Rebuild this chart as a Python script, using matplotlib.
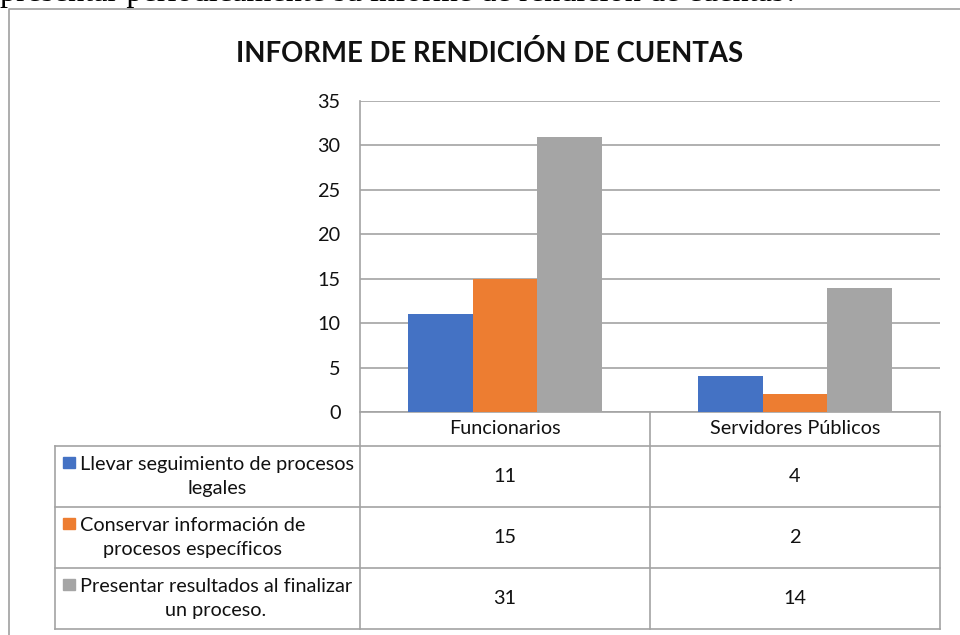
import matplotlib
matplotlib.use("Agg")
import matplotlib.pyplot as plt
from matplotlib.patches import Rectangle

# data
categories = ['Funcionarios', 'Servidores Públicos']
series_labels = ['Llevar seguimiento de procesos\nlegales',
                 'Conservar información de\nprocesos específicos',
                 'Presentar resultados al finalizar\nun proceso.']
llevar = [11, 4]
conservar = [15, 2]
presentar = [31, 14]
series_values = [llevar, conservar, presentar]
colors = ['#4472C4', '#ED7D31', '#A5A5A5']
yticks = [0, 5, 10, 15, 20, 25, 30, 35]

title = 'INFORME DE RENDICIÓN DE CUENTAS'
top_text = 'presentar periódicamente su informe de rendición de cuentas?'

W, H = 960, 635
font = 'Lato'
fs = 14.3
line_col = '#a3a3a3'
text_col = '#111111'

fig = plt.figure(figsize=(W / 100, H / 100), dpi=100)

# overlay in pixel coords for frame, title and data table
ov = fig.add_axes([0, 0, 1, 1])
ov.set_xlim(0, W)
ov.set_ylim(H, 0)
ov.axis('off')

# plot area (pixels)
px0, px1 = 360, 940
py_top, py_bot = 101, 412

ax = fig.add_axes([px0 / W, 1 - py_bot / H, (px1 - px0) / W, (py_bot - py_top) / H])
ax.set_facecolor('none')

bar_w = 0.222
x = range(len(categories))
for i, (vals, c) in enumerate(zip(series_values, colors)):
    ax.bar([xi + (i - 1) * bar_w for xi in x], vals, width=bar_w, color=c, zorder=3)

ax.set_xlim(-0.5, len(categories) - 0.5)
ax.set_ylim(0, 35)
ax.set_yticks(yticks)
ax.set_yticklabels([str(t) for t in yticks], fontsize=fs, family=font, color=text_col)
ax.set_xticks([])
ax.tick_params(axis='y', length=0, pad=14)
ax.yaxis.grid(True, color=line_col, linewidth=1.2, zorder=0)
for s in ['top', 'right', 'bottom']:
    ax.spines[s].set_visible(False)
ax.spines['left'].set_color(line_col)
ax.spines['left'].set_linewidth(1.2)

# chart frame
ov.plot([9, 9, W], [H, 9, 9], color='#a0a0a0', lw=1.2)

# text above the chart (cut off in the reference)
ov.text(0, 0.5, top_text, family='Liberation Serif', fontsize=23.2, va='baseline', ha='left', color='black')

ov.text(490, 53, title, family=font, fontsize=19.8, fontweight='bold', ha='center', va='center', color=text_col)

# data table
tx0 = 55
col_edges = [px0, 650, px1]
row_edges = [py_bot, 446, 507, 568, 629]
lw = 1.2
# horizontal lines
ov.plot([px0, px1], [row_edges[0]] * 2, color=line_col, lw=lw)
for y in row_edges[1:]:
    ov.plot([tx0, px1], [y, y], color=line_col, lw=lw)
# vertical lines
ov.plot([tx0, tx0], [row_edges[1], row_edges[-1]], color=line_col, lw=lw)
for xe in col_edges:
    ov.plot([xe, xe], [row_edges[0], row_edges[-1]], color=line_col, lw=lw)

col_centers = [(col_edges[k] + col_edges[k + 1]) / 2 for k in range(len(categories))]
for cx, cat in zip(col_centers, categories):
    ov.text(cx, (row_edges[0] + row_edges[1]) / 2, cat, family=font, fontsize=fs,
            ha='center', va='center', color=text_col)

for r, (lab, vals, c) in enumerate(zip(series_labels, series_values, colors)):
    yc = (row_edges[r + 1] + row_edges[r + 2]) / 2
    ov.text(80, yc, lab, family=font, fontsize=fs, ha='left', va='center',
            multialignment='center', linespacing=1.5, color=text_col)
    ov.add_patch(Rectangle((63, yc - 20), 11.5, 11.5, color=c))
    for cx, v in zip(col_centers, vals):
        ov.text(cx, yc, str(v), family=font, fontsize=fs, ha='center', va='center', color=text_col)

fig.savefig('out.png', dpi=100)
